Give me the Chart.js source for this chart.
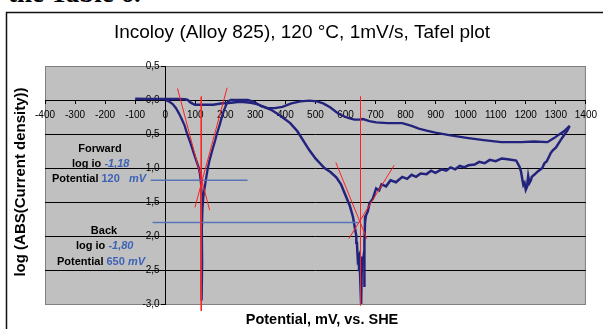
<!DOCTYPE html>
<html>
<head>
<meta charset="utf-8">
<script src="https://cdn.jsdelivr.net/npm/chart.js@4.4.1/dist/chart.umd.min.js"></script>
<style>
  body { margin: 0; background: #fff; }
  #wrap { position: relative; width: 603px; height: 329px; overflow: hidden; }
  #cap { position: absolute; left: 8px; top: -22px; font: bold 27px "Liberation Serif", serif; color: #000; white-space: nowrap; }
  canvas { position: absolute; left: 0; top: 0; }
</style>
</head>
<body>
<div id="wrap">
  <div id="cap">the Table 6.</div>
  <canvas id="myChart" width="603" height="329"></canvas>
</div>
<script>
// forward scan, potential (mV vs SHE) and log|i|
const fwdE = [0, 12, 25, 36, 46, 56, 65, 73, 84, 95, 104, 112, 116, 119, 121, 120, 122, 121, 122, 121,
  123, 122, 124, 127, 131, 137, 142, 148, 158, 166, 172, 181, 188, 195, 203, 210, 218, 250, 275, 290,
  305, 320, 340, 365, 390, 420, 450, 480, 505, 526, 550, 570, 585, 600, 614, 630, 647, 658, 680, 702,
  740, 789, 820, 844, 870, 899, 950, 1009, 1060, 1118, 1150, 1184, 1228, 1272, 1294, 1310, 1327, 1346];
const fwdLog = [0.0, -0.02, -0.06, -0.12, -0.2, -0.29, -0.38, -0.5, -0.63, -0.78, -0.9, -1.0, -1.1, -1.22, -1.35, -1.55, -1.8, -2.2, -2.6, -2.95,
  -2.4, -1.9, -1.6, -1.42, -1.3, -1.13, -1.0, -0.88, -0.72, -0.6, -0.5, -0.37, -0.26, -0.16, -0.07, -0.02, 0.0, 0.0, 0.0, -0.02,
  -0.05, -0.09, -0.12, -0.12, -0.1, -0.05, -0.02, -0.01, -0.02, -0.05, -0.11, -0.18, -0.22, -0.25, -0.27, -0.29, -0.29, -0.28, -0.31, -0.33,
  -0.34, -0.34, -0.38, -0.42, -0.45, -0.48, -0.52, -0.56, -0.59, -0.62, -0.62, -0.62, -0.61, -0.62, -0.56, -0.51, -0.46, -0.38];

// back scan
const backE = [1346, 1338, 1330, 1316, 1300, 1290, 1283, 1270, 1262, 1255, 1240, 1228, 1220, 1217, 1212, 1208, 1204, 1200, 1196, 1192,
  1189, 1184, 1179, 1168,
  1140, 1120, 1100, 1080, 1063, 1045, 1030, 1009, 995, 980, 965, 950, 935, 920, 899, 885, 870, 850, 835, 820,
  805, 789, 768, 750, 735, 720, 712, 702,
  691, 680, 674, 668, 665, 663, 664, 662, 658, 655, 652, 648, 645, 641, 638, 636, 630,
  625, 614, 600, 585, 570, 550, 530, 515, 500, 480, 460, 440, 416, 380, 351, 329, 305, 285, 260, 241,
  220, 185, 160, 142, 120, 99, 85, 75, 66, 40, 0, -50, -100];
const backLog = [-0.38, -0.45, -0.5, -0.59, -0.7, -0.74, -0.78, -0.9, -0.93, -1.0, -1.05, -1.1, -1.13, -1.18, -1.22, -1.12, -1.28, -1.32, -1.22, -1.25,
  -1.18, -1.05, -0.98, -0.89,
  -0.87, -0.86, -0.9, -0.88, -0.93, -0.91, -0.95, -0.96, -0.99, -0.97, -1.02, -0.99, -1.04, -1.02, -1.07, -1.04, -1.09, -1.08, -1.13, -1.1,
  -1.16, -1.13, -1.21, -1.18, -1.27, -1.24, -1.33, -1.3,
  -1.45, -1.52, -1.64, -1.7, -1.8, -2.1, -2.75, -2.2, -2.4, -2.3, -3.0, -2.5, -2.3, -2.35, -2.1, -2.0, -1.85,
  -1.72, -1.55, -1.4, -1.24, -1.14, -1.06, -1.0, -0.93, -0.86, -0.74, -0.6, -0.46, -0.34, -0.22, -0.14, -0.1, -0.06, -0.04, -0.03, -0.03,
  -0.04, -0.05, -0.07, -0.07, -0.07, -0.07, -0.04, 0.0, 0.01, 0.015, 0.015, 0.015, 0.02];

// tafel fit lines [E1, log1, E2, log2]
const tafelFits = [[41, 0.17, 148, -1.62], [206, 0.18, 99, -1.58], [568, -0.92, 671, -2.04], [762, -0.96, 611, -2.04]];
const ecorrE = [120, 650];
const ecorrTop = [0.05, 0.05];
const ecorrBottom = [-3.1, -3.02];
// log io guide lines [Estart, Eend, log io]
const ioLines = [[-48, 274, -1.18], [-42, 646, -1.80]];

const xMin = -400, xMax = 1400, xStep = 100;
const yMin = -3, yMax = 0.5, yStep = 0.5;

const navy = '#23237d';
const red = '#ff2020';
const blueLine = '#5874b8';
const blueText = '#3d62b6';

function pts(xs, ys) {
  return xs.map((x, i) => ({x: x, y: ys[i]}));
}

const datasets = [];
tafelFits.forEach(f => {
  datasets.push({data: [{x: f[0], y: f[1]}, {x: f[2], y: f[3]}], borderColor: red, borderWidth: 1, clip: false});
});
ecorrE.forEach((e, i) => {
  datasets.push({data: [{x: e, y: ecorrTop[i]}, {x: e, y: ecorrBottom[i]}], borderColor: red, borderWidth: 1, clip: false});
});
ioLines.forEach(l => {
  datasets.push({data: [{x: l[0], y: l[2]}, {x: l[1], y: l[2]}], borderColor: blueLine, borderWidth: 1.5});
});
datasets.push({data: pts(fwdE, fwdLog), borderColor: navy, borderWidth: 2.3});
datasets.push({data: pts(backE, backLog), borderColor: navy, borderWidth: 2.5});
datasets.forEach(d => { d.showLine = true; d.pointRadius = 0; d.tension = 0; d.fill = false; });

function runs(ctx, x, y, parts) {
  parts.forEach(p => {
    ctx.font = (p[2] ? 'italic ' : '') + 'bold 11px "Liberation Sans", Arial, sans-serif';
    ctx.fillStyle = p[1];
    ctx.fillText(p[0], x, y);
    x += ctx.measureText(p[0]).width;
  });
}

const decor = {
  id: 'decor',
  beforeDraw(chart) {
    const {ctx, chartArea: a} = chart;
    ctx.save();
    ctx.fillStyle = '#c0c0c0';
    ctx.fillRect(a.left, a.top, a.right - a.left, a.bottom - a.top);
    ctx.strokeStyle = '#808080';
    ctx.lineWidth = 1;
    ctx.strokeRect(a.left + 0.5, a.top + 0.5, a.right - a.left - 1, a.bottom - a.top);
    ctx.strokeStyle = '#111';
    ctx.lineWidth = 1.5;
    ctx.beginPath();
    ctx.moveTo(6.5, 340);
    ctx.lineTo(6.5, 12.5);
    ctx.lineTo(620, 12.5);
    ctx.stroke();
    ctx.restore();
  },
  afterDraw(chart) {
    const ctx = chart.ctx;
    ctx.save();
    ctx.fillStyle = '#000';
    ctx.textBaseline = 'middle';
    ctx.textAlign = 'center';
    ctx.font = '19px "Liberation Sans", Arial, sans-serif';
    ctx.fillText('Incoloy (Alloy 825), 120 °C, 1mV/s, Tafel plot', 302, 33);
    ctx.font = 'bold 14.5px "Liberation Sans", Arial, sans-serif';
    ctx.fillText('Potential, mV, vs. SHE', 322, 320);
    ctx.save();
    ctx.translate(21, 182);
    ctx.rotate(-Math.PI / 2);
    ctx.font = 'bold 15px "Liberation Sans", Arial, sans-serif';
    ctx.fillText('log (ABS(Current density))', 0, 0);
    ctx.restore();

    ctx.font = 'bold 11px "Liberation Sans", Arial, sans-serif';
    ctx.fillText('Forward', 100, 149);
    ctx.fillText('Back', 104, 231);
    ctx.textAlign = 'left';
    runs(ctx, 72, 163.5, [['log io ', '#000'], ['-1,18', blueText, true]]);
    runs(ctx, 52, 178.5, [['Potential ', '#000'], ['120', blueText], ['   mV', blueText, true]]);
    runs(ctx, 76, 246, [['log io ', '#000'], ['-1,80', blueText, true]]);
    runs(ctx, 57, 262, [['Potential ', '#000'], ['650', blueText], [' mV', blueText, true]]);
    ctx.restore();
  }
};

Chart.defaults.font.family = '"Liberation Sans", Arial, sans-serif';
Chart.defaults.color = '#000';

new Chart("myChart", {
  type: 'scatter',
  data: { datasets: datasets },
  options: {
    responsive: false,
    animation: false,
    layout: { padding: { left: 45, right: 11, top: 66, bottom: 25 } },
    plugins: {
      legend: { display: false },
      tooltip: { enabled: false },
      title: { display: false }
    },
    scales: {
      x: {
        type: 'linear',
        position: { y: 0 },
        min: xMin,
        max: xMax,
        ticks: { stepSize: xStep, font: { size: 10 }, padding: 6, maxRotation: 0, autoSkip: false, callback: v => String(v) },
        grid: { drawOnChartArea: false, tickLength: 3, color: '#000' },
        border: { color: '#000', width: 1 }
      },
      y: {
        type: 'linear',
        position: { x: 0 },
        min: yMin,
        max: yMax,
        ticks: {
          stepSize: yStep,
          font: { size: 10 },
          callback: v => v.toFixed(1).replace('.', ',') + '  '
        },
        grid: {
          color: c => (c.tick && (c.tick.value === yMin || c.tick.value === yMax)) ? '#808080' : '#000',
          tickColor: '#000',
          tickLength: 4,
          lineWidth: 1
        },
        border: { color: '#000', width: 1 }
      }
    }
  },
  plugins: [decor]
});
</script>
</body>
</html>
